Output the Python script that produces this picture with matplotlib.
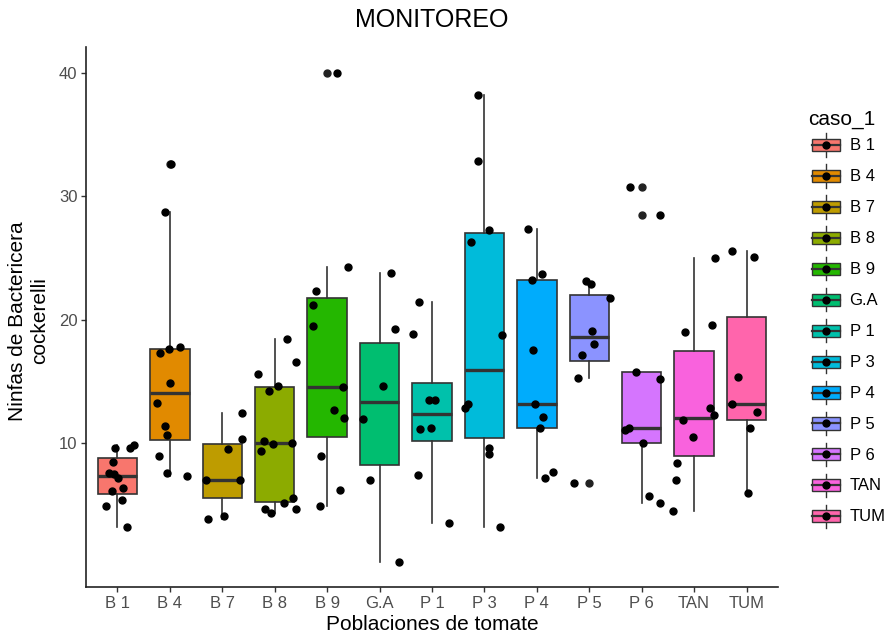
import numpy as np
import matplotlib
matplotlib.use("Agg")
import matplotlib.pyplot as plt
from matplotlib.patches import Patch, Rectangle
from matplotlib.lines import Line2D
from matplotlib.legend_handler import HandlerBase

plt.rcParams['font.family'] = ['Liberation Sans', 'DejaVu Sans']

categories = ["B 1", "B 4", "B 7", "B 8", "B 9", "G.A", "P 1", "P 3", "P 4", "P 5", "P 6", "TAN", "TUM"]
colors = ["#F8766D", "#E18A00", "#BE9C00", "#8CAB00", "#24B700", "#00BE70", "#00C1AB",
          "#00BBDA", "#00ACFC", "#8B93FF", "#D575FE", "#F962DD", "#FF65AC"]

b1 = [9.65, 9.65, 9.85, 8.5, 7.6, 7.5, 7.2, 6.1, 6.35, 5.4, 4.9, 3.2]
b4 = [32.65, 28.7, 17.35, 17.6, 17.8, 14.85, 13.3, 11.4, 10.65, 8.97, 7.56, 7.35]
b7 = [12.44, 10.38, 9.5, 7.0, 7.0, 4.1, 3.9]
b8 = [18.45, 16.6, 15.6, 14.2, 14.68, 10.15, 9.94, 10.06, 9.41, 5.53, 5.15, 4.7, 4.35, 4.7]
b9 = [40.0, 24.24, 22.3, 21.24, 19.47, 14.53, 12.68, 12.03, 8.97, 6.24, 4.94]
ga = [23.82, 19.24, 14.65, 12.0, 7.0, 0.35]
p1 = [21.41, 18.82, 13.53, 13.53, 11.12, 11.26, 7.44, 3.53]
p3 = [38.24, 32.88, 27.24, 26.32, 18.76, 13.18, 12.82, 9.65, 9.12, 3.18]
p4 = [27.32, 23.7, 23.26, 17.59, 13.18, 12.12, 11.26, 7.65, 7.21]
p5 = [23.12, 22.91, 21.74, 19.12, 18.03, 17.15, 15.29, 6.76]
p6 = [30.79, 28.53, 15.74, 15.21, 11.09, 11.26, 10.06, 5.71, 5.15]
tan = [25.0, 19.56, 19.03, 12.88, 12.26, 11.91, 10.5, 8.44, 7.0, 4.5]
tum = [25.56, 25.12, 15.41, 13.18, 12.56, 11.26, 5.94]

# horizontal jitter offsets (category units)
b1_dx = [-0.04, 0.24, 0.31, -0.08, -0.16, -0.06, 0.01, -0.1, 0.11, 0.08, -0.21, 0.18]
b4_dx = [0.03, -0.1, -0.18, -0.01, 0.2, 0.01, -0.25, -0.1, -0.06, -0.2, -0.06, 0.32]
b7_dx = [0.38, 0.38, 0.11, -0.31, 0.33, 0.03, -0.27]
b8_dx = [0.24, 0.4, -0.31, -0.1, 0.07, -0.2, -0.04, 0.32, -0.27, 0.34, 0.17, -0.18, -0.07, 0.4]
b9_dx = [0.19, 0.39, -0.21, -0.27, -0.27, 0.3, 0.13, 0.32, -0.11, 0.24, -0.13]
ga_dx = [0.22, 0.3, 0.06, -0.32, -0.19, 0.38]
p1_dx = [-0.24, -0.37, -0.06, 0.06, -0.22, -0.02, -0.27, 0.33]
p3_dx = [-0.12, -0.12, 0.08, -0.26, 0.34, -0.31, -0.37, 0.08, 0.08, 0.3]
p4_dx = [-0.16, 0.09, -0.1, -0.08, -0.03, 0.11, 0.06, 0.3, 0.16]
p5_dx = [-0.06, 0.04, 0.39, 0.06, 0.09, -0.13, -0.22, -0.29]
p6_dx = [-0.22, 0.35, -0.11, 0.35, -0.32, -0.24, 0.03, 0.13, 0.35]
tan_dx = [0.39, 0.34, -0.18, 0.3, 0.37, -0.21, -0.02, -0.32, -0.35, -0.4]
tum_dx = [-0.27, 0.15, -0.16, -0.28, 0.19, 0.06, 0.03]

yticks = [10, 20, 30, 40]

groups = [b1, b4, b7, b8, b9, ga, p1, p3, p4, p5, p6, tan, tum]
offsets = [b1_dx, b4_dx, b7_dx, b8_dx, b9_dx, ga_dx, p1_dx, p3_dx, p4_dx, p5_dx, p6_dx, tan_dx, tum_dx]
positions = np.arange(1, len(categories) + 1)

W, H = 888, 635
fig = plt.figure(figsize=(W / 100, H / 100), dpi=100)
L, R, T, B = 86, 778, 47, 587
ax = fig.add_axes([L / W, 1 - B / H, (R - L) / W, (B - T) / H])

edge = "#333333"
bp = ax.boxplot(groups, positions=positions, widths=0.75, patch_artist=True,
                showcaps=False, whis=1.5,
                boxprops=dict(edgecolor=edge, linewidth=1.2),
                whiskerprops=dict(color=edge, linewidth=1.2),
                medianprops=dict(color=edge, linewidth=2.4),
                flierprops=dict(marker='o', markerfacecolor='#222222', markeredgecolor='#222222',
                                markersize=5, linestyle='none'),
                zorder=2)
for patch, c in zip(bp['boxes'], colors):
    patch.set_facecolor(c)

for p, vals, dx in zip(positions, groups, offsets):
    ax.plot(p + np.array(dx), vals, 'o', color='black', markersize=5, zorder=4, linestyle='none')

ax.set_xlim(0.4, len(categories) + 0.6)
ax.set_ylim(-1.64, 42.1)
ax.set_xticks(positions)
ax.set_xticklabels(categories)
ax.set_yticks(yticks)
for s in ['top', 'right']:
    ax.spines[s].set_visible(False)
for s in ['left', 'bottom']:
    ax.spines[s].set_linewidth(1.2)
    ax.spines[s].set_color('#222222')
ax.tick_params(axis='both', length=3.7, width=1.0, color='#333333', labelcolor='#4D4D4D',
               labelsize=12, pad=2.5)

fig.text((L + R) / 2 / W, 1 - 20 / H, "MONITOREO", ha='center', va='center', fontsize=18)
fig.text((L + R) / 2 / W, 1 - 624 / H, "Poblaciones de tomate", ha='center', va='center', fontsize=15)
fig.text(29 / W, 1 - 321 / H, "Ninfas de Bactericera\ncockerelli", ha='center', va='center',
         rotation=90, fontsize=15, multialignment='center')


class BoxKey(HandlerBase):
    def create_artists(self, legend, orig_handle, xdescent, ydescent, width, height, fontsize, trans):
        fc = orig_handle.get_facecolor()
        x0, y0 = -xdescent, -ydescent
        cx = x0 + width / 2
        cy = y0 + height / 2
        bw = 0.8 * width
        bh = 0.39 * height
        arts = [
            Line2D([cx, cx], [cy - 0.38 * height, cy + 0.38 * height], color=edge, lw=1.0),
            Rectangle((cx - bw / 2, cy - bh / 2), bw, bh, facecolor=fc, edgecolor=edge, lw=1.0),
            Line2D([cx - bw / 2, cx + bw / 2], [cy, cy], color=edge, lw=1.6),
            Line2D([cx], [cy], marker='o', color='black', markersize=5, linestyle='none'),
        ]
        for a in arts:
            a.set_transform(trans)
        return arts


handles = [Patch(facecolor=c, edgecolor=edge) for c in colors]
leg = fig.legend(handles, categories, handler_map={Patch: BoxKey()},
                 loc='center left', bbox_to_anchor=(808 / W, 1 - 321 / H),
                 frameon=False, fontsize=12, title="caso_1", title_fontsize=15,
                 handlelength=2.1, handleheight=2.48, labelspacing=0.0,
                 handletextpad=0.39, borderpad=0, borderaxespad=0, alignment='left')

fig.savefig("out.png", dpi=100)
